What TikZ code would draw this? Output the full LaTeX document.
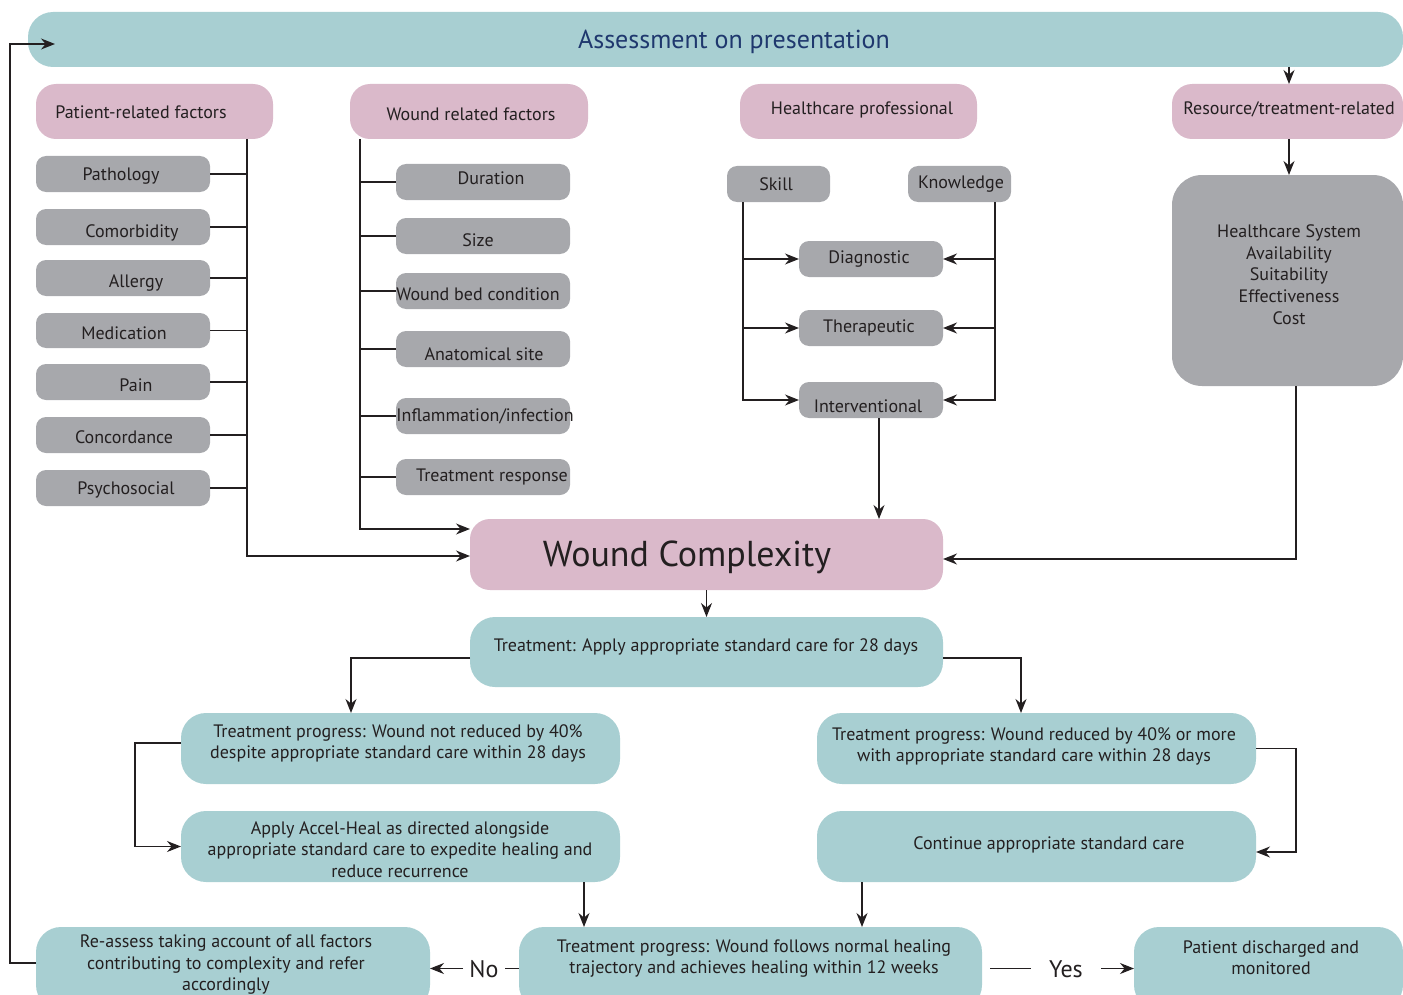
\documentclass[tikz,border=0pt]{standalone}
\usepackage{fontspec}
\setmainfont{PT Sans}
\usetikzlibrary{arrows.meta}
\definecolor{teal1}{RGB}{168,207,210}
\definecolor{pink1}{RGB}{218,185,202}
\definecolor{gray1}{RGB}{167,168,172}
\definecolor{ink}{RGB}{35,31,32}
\definecolor{titleblue}{RGB}{31,56,110}
\tikzset{
  base/.style={inner sep=0pt,outer sep=0pt,draw=none},
  tealbox/.style={base,fill=teal1,rounded corners=12.5pt},
  pinkbox/.style={base,fill=pink1,rounded corners=10pt},
  graybox/.style={base,fill=gray1,rounded corners=5pt},
  bigbox/.style={base,fill=gray1,rounded corners=15pt},
  txt/.style={inner sep=0pt,text=ink,font=\fontsize{9}{10.8}\selectfont,align=center,yshift=-0.8pt},
  conn/.style={draw=ink,line width=0.65pt},
  arr/.style={conn,-{Stealth[length=7pt,width=5.5pt]}}
}
\newcommand\bx[9]{%
  \node[#1,minimum width={(#5-#3)*0.5pt},minimum height={(#6-#4)*0.5pt}] (#2) at ({(#3+#5)/2},{(#4+#6)/2}) {};
  \node[txt] (#2-t) at (#7,#8) {#9};}
\begin{document}
\begin{tikzpicture}[x=0.5pt,y=-0.5pt]
\useasboundingbox (0,0) rectangle (1403,995);
\clip (0,0) rectangle (1403,995);
% banner
\bx{tealbox}{banner}{28}{12}{1403}{67}{734}{40}{\fontsize{13}{15}\selectfont\color{titleblue}Assessment on presentation}
% headers
\bx{pinkbox}{pat}{36}{84}{273}{139}{141}{111}{Patient-related factors}
\bx{pinkbox}{wnd}{350}{84}{588}{139}{471}{113}{Wound related factors}
\bx{pinkbox}{hcp}{740}{84}{977}{139}{862}{108}{Healthcare professional}
\bx{pinkbox}{res}{1172}{84}{1403}{139}{1289}{108}{Resource/treatment-related}
% patient factors
\bx{graybox}{p1}{36}{156}{210}{192}{121}{174}{Pathology}
\bx{graybox}{p2}{36}{209}{210}{245}{132}{231}{Comorbidity}
\bx{graybox}{p3}{36}{260}{210}{296}{136}{281}{Allergy}
\bx{graybox}{p4}{36}{313}{210}{348}{124}{332}{Medication}
\bx{graybox}{p5}{36}{364}{210}{400}{136}{384}{Pain}
\bx{graybox}{p6}{36}{417}{210}{453}{124}{436}{Concordance}
\bx{graybox}{p7}{36}{470}{210}{506}{126}{488}{Psychosocial}
% wound factors
\bx{graybox}{w1}{396}{164}{570}{200}{491}{177}{Duration}
\bx{graybox}{w2}{396}{218}{570}{254}{478}{239}{Size}
\bx{graybox}{w3}{396}{273}{570}{309}{478}{293}{Wound bed condition}
\bx{graybox}{w4}{396}{331}{570}{367}{484}{353}{Anatomical site}
\bx{graybox}{w5}{396}{398}{570}{434}{485}{415}{Inflammation/infection}
\bx{graybox}{w6}{396}{459}{570}{495}{492}{475}{Treatment response}
% healthcare professional
\bx{graybox}{skill}{727}{166}{830}{202}{776}{183}{Skill}
\bx{graybox}{know}{908}{166}{1011}{202}{961}{183}{Knowledge}
\bx{graybox}{diag}{799}{241}{943}{277}{869}{257}{Diagnostic}
\bx{graybox}{ther}{799}{310}{943}{346}{869}{326}{Therapeutic}
\bx{graybox}{intv}{799}{382}{943}{418}{868}{405}{Interventional}
% resource
\bx{bigbox}{hsys}{1172}{175}{1403}{386}{1289}{273}{Healthcare System\\Availability\\Suitability\\Effectiveness\\Cost}
% wound complexity
\bx{pinkbox}{wc}{470}{519}{943}{590}{687}{556}{\fontsize{18}{20}\selectfont Wound Complexity}
% treatment flow
\bx{tealbox}{treat}{470}{617}{943}{687}{706}{645}{Treatment: Apply appropriate standard care for 28 days}
\bx{tealbox}{notred}{181}{713}{620}{784}{398}{742}{Treatment progress: Wound not reduced by 40\%\\despite appropriate standard care within 28 days}
\bx{tealbox}{accel}{181}{811}{620}{882}{400}{848}{Apply Accel-Heal as directed alongside\\appropriate standard care to expedite healing and\\reduce recurrence}
\bx{tealbox}{red}{817}{713}{1256}{784}{1034}{745}{Treatment progress: Wound reduced by 40\% or more\\with appropriate standard care within 28 days}
\bx{tealbox}{cont}{817}{811}{1256}{882}{1049}{843}{Continue appropriate standard care}
\bx{tealbox}{reass}{36}{927}{430}{1010}{226}{963}{Re-assess taking account of all factors\\contributing to complexity and refer\\accordingly}
\bx{tealbox}{prog}{519}{927}{982}{1010}{754}{957}{Treatment progress: Wound follows normal healing\\trajectory and achieves healing within 12 weeks}
\bx{tealbox}{disc}{1134}{927}{1403}{1010}{1271}{956}{Patient discharged and\\monitored}
\node[txt,font=\fontsize{12}{14}\selectfont] (no) at (484,968) {No};
\node[txt,font=\fontsize{12}{14}\selectfont] (yes) at (1066,968) {Yes};
% --- connectors: patient factors
\coordinate (pl) at (247,0);
\draw[arr] (pat.south -| pl) |- ([yshift=-0.75pt]wc.west);
\foreach \n in {p1,p2,p3,p4,p5,p6,p7} \draw[conn] (\n.east) -- (\n.east -| pl);
% wound factors
\coordinate (wl) at (360,0);
\draw[arr] (wnd.south -| wl) |- ([yshift=12.75pt]wc.west);
\foreach \n in {w1,w2,w3,w4,w5,w6} \draw[conn] (\n.west) -- (\n.west -| wl);
% skill / knowledge
\coordinate (sl) at (743,0);
\coordinate (kl) at (995,0);
\draw[arr] (skill.south -| sl) |- (intv.west);
\draw[arr] (diag.west -| sl) -- (diag.west);
\draw[arr] (ther.west -| sl) -- (ther.west);
\draw[arr] (know.south -| kl) |- (intv.east);
\draw[arr] (diag.east -| kl) -- (diag.east);
\draw[arr] (ther.east -| kl) -- (ther.east);
\coordinate (il) at (879,0);
\draw[arr] (intv.south -| il) -- (wc.north -| il);
% resource
\coordinate (rl) at (1289,0);
\draw[arr] (banner.south -| rl) -- (res.north -| rl);
\draw[arr] (res.south -| rl) -- (hsys.north -| rl);
\coordinate (hl) at (1296,0);
\draw[arr] (hsys.south -| hl) |- ([yshift=-2.25pt]wc.east);
% treatment flow
\draw[arr] (wc.south) -- (treat.north);
\coordinate (tl) at (351,0);
\coordinate (tr) at (1021,0);
\draw[arr] ([yshift=-3pt]treat.west) -| (notred.north -| tl);
\draw[arr] ([yshift=-3pt]treat.east) -| (red.north -| tr);
\draw[arr] ([yshift=2.75pt]notred.west) -- ++(-46,0) |- (accel.west);
\draw[arr] (red.east) -- ++(40,0) |- ([yshift=-2.75pt]cont.east);
\coordinate (al) at (584,0);
\coordinate (cl) at (862,0);
\draw[arr] (accel.south -| al) -- (prog.north -| al);
\draw[arr] (cont.south -| cl) -- (prog.north -| cl);
% no / yes
\draw[conn] (prog.west) -- ([xshift=3pt]no.east |- prog.west);
\draw[arr] ([xshift=-3pt]no.west |- reass.east) -- (reass.east);
\draw[conn] ([xshift=4pt]prog.east) -- ([xshift=-9pt]yes.west |- prog.east);
\draw[arr] ([xshift=9pt]yes.east |- disc.west) -- (disc.west);
% feedback loop
\draw[arr] ([yshift=2.75pt]reass.west) -| (10,44) -- ([xshift=13.5pt,yshift=-2.25pt]banner.west);
\end{tikzpicture}
\end{document}
